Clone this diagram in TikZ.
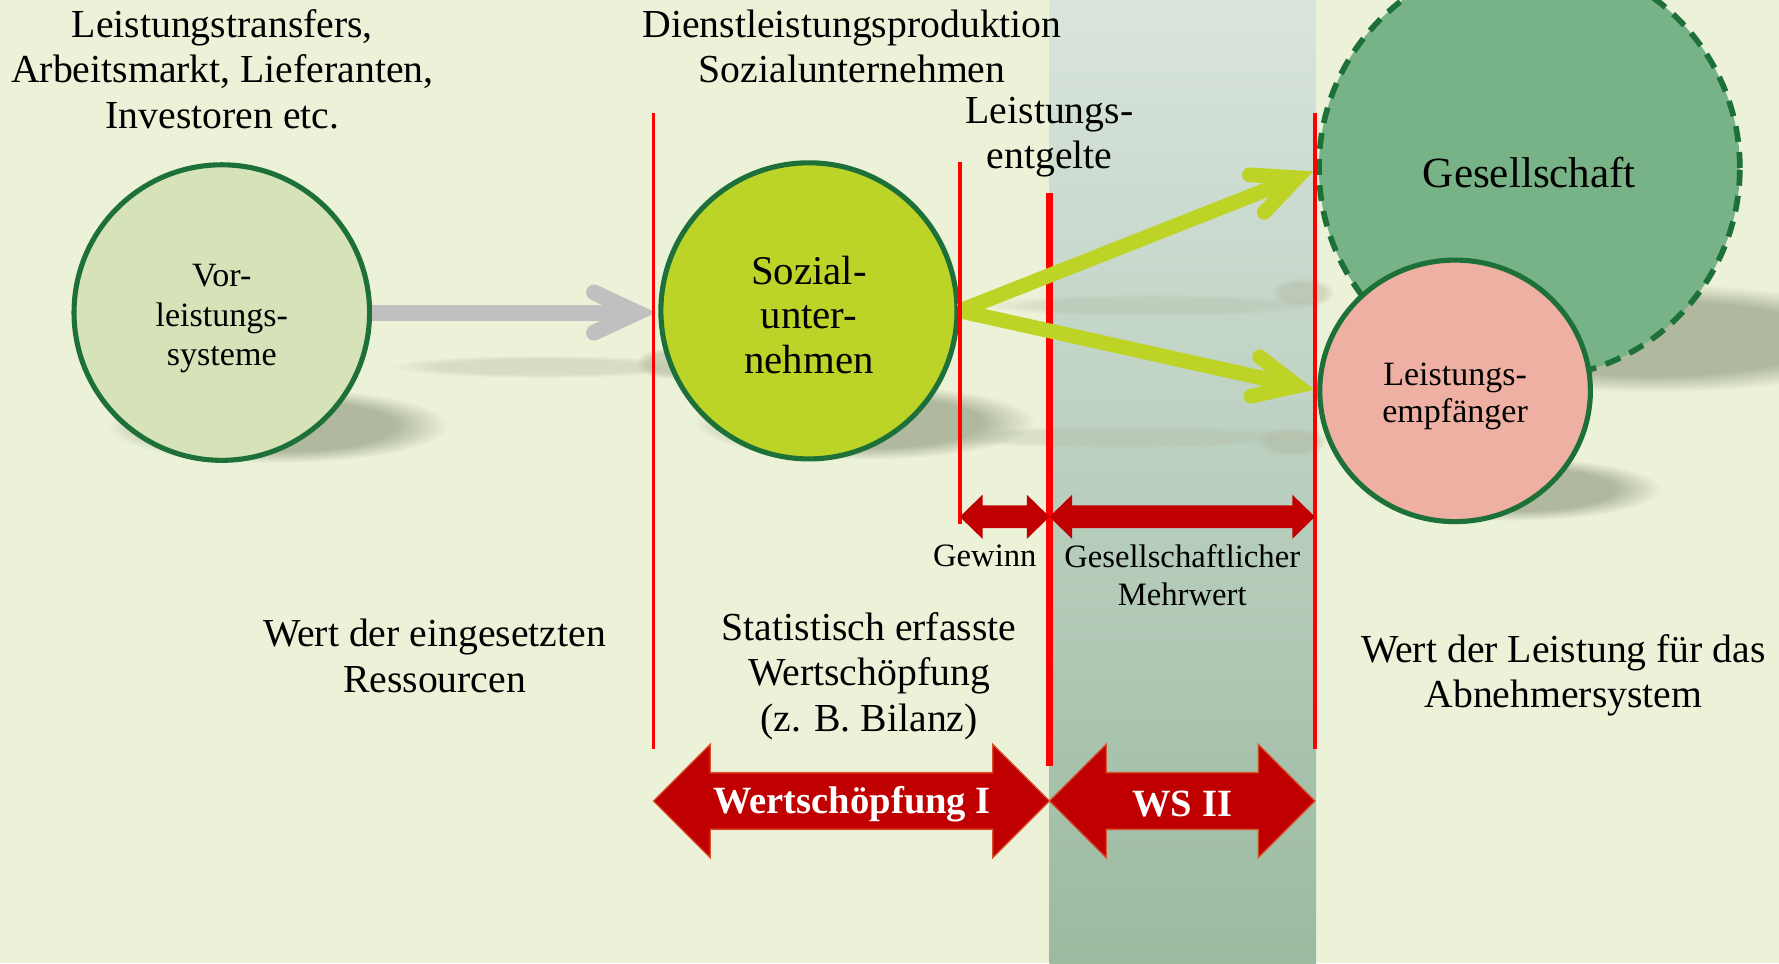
\documentclass[tikz,border=0pt]{standalone}
\usepackage{fontspec}
\setmainfont{Liberation Serif}
\usetikzlibrary{calc,fadings,shapes.geometric}
\definecolor{bgcol}{RGB}{236,242,216}
\definecolor{bandtop}{RGB}{217,228,221}
\definecolor{bandbot}{RGB}{155,186,160}
\definecolor{vorfill}{RGB}{214,227,185}
\definecolor{sozfill}{RGB}{188,212,40}
\definecolor{limegreen}{RGB}{189,212,38}
\definecolor{gesfill}{RGB}{119,179,135}
\definecolor{empfill}{RGB}{238,176,162}
\definecolor{dkgreen}{RGB}{28,112,56}
\definecolor{arrgray}{RGB}{192,192,192}
\definecolor{redline}{RGB}{255,0,0}
\definecolor{darkred}{RGB}{192,0,0}
\definecolor{rededge}{RGB}{214,80,42}
\definecolor{shadowcol}{RGB}{176,184,158}
\pgfdeclareradialshading{softshadowshade}{\pgfpointorigin}{color(0bp)=(white); color(17bp)=(white); color(25bp)=(black); color(50bp)=(black)}
\pgfdeclarefading{softshadow}{\pgfuseshading{softshadowshade}}
\newcommand\softshadow[5]{\fill[shadowcol,path fading=softshadow,#5] (#1,#2) ellipse [x radius=#3, y radius=#4];}
\newcommand\dblarr[7]{%
  \path[#1] (#2,#4) -- ({#2+#5},{#4-#6}) -- ({#2+#5},{#4-#7}) -- ({#3-#5},{#4-#7}) -- ({#3-#5},{#4-#6}) -- (#3,#4) -- ({#3-#5},{#4+#6}) -- ({#3-#5},{#4+#7}) -- ({#2+#5},{#4+#7}) -- ({#2+#5},{#4+#6}) -- cycle;}
\newcommand\chevarrow[3]{%
  \coordinate (#3c) at ($(#3)!7.7pt!(#2)$);
  \draw[#1,line cap=butt] (#2) -- (#3c);
  \draw[#1,line cap=round,line join=miter] ($(#3c)!21pt!25:(#2)$) -- (#3c) -- ($(#3c)!21pt!-25:(#2)$);}
\begin{document}
\begin{tikzpicture}[x=0.5pt,y=-0.5pt,
  every node/.style={inner sep=0pt},
  lbl/.style={align=center,font=\fontsize{17.5}{20}\selectfont},
  smalllbl/.style={align=center,font=\fontsize{14.4}{16.5}\selectfont},
  wslbl/.style={align=center,text=white,font=\bfseries\fontsize{17}{20}\selectfont},
  ring/.style={draw=dkgreen,line width=2.25pt},
  redthin/.style={draw=redline,line width=1.5pt},
  redthick/.style={draw=redline,line width=3.2pt},
  greenarr/.style={draw=limegreen,line width=6.5pt},
  grayarr/.style={draw=arrgray,line width=7pt},
  smallred/.style={fill=darkred},
  bigred/.style={fill=darkred,draw=rededge,line width=0.6pt,line join=miter}]
\useasboundingbox (0,0) rectangle (1568,849);
\clip (0,0) rectangle (1568,849);
\fill[bgcol] (0,0) rectangle (1568,849);
\shade[top color=bandtop,bottom color=bandbot] (925,0) rectangle (1160,849);
% shadows
\softshadow{245}{375}{150}{33}{}
\softshadow{762}{372}{150}{33}{}
\softshadow{1455}{298}{220}{48}{}
\softshadow{1332}{431}{132}{28}{}
\softshadow{478}{323}{135}{10}{opacity=0.35}
\softshadow{592}{320}{32}{14}{opacity=0.55}
\softshadow{1015}{269}{150}{10}{opacity=0.3}
\softshadow{1148}{258}{28}{13}{opacity=0.45}
\softshadow{990}{385}{170}{10}{opacity=0.3}
\softshadow{1138}{389}{32}{13}{opacity=0.45}
% circles
\node (ges) [circle,draw=dkgreen,line width=2.5pt,fill=gesfill,dash pattern=on 7pt off 4.5pt,minimum size=185.5pt] at (1348,148) {};
\node (emp) [ellipse,ring,fill=empfill,minimum width=119.25pt,minimum height=115.25pt] at (1282.5,344.5) {};
\node (vor) [circle,ring,fill=vorfill,minimum size=130.25pt] at (195.5,275.5) {};
\node (soz) [circle,ring,fill=sozfill,minimum size=130.5pt] at (713,274) {};
\node (gestext) [font=\fontsize{19}{22}\selectfont] at (1348,152) {Gesellschaft};
\node (emptext) [align=center,font=\fontsize{15}{16.5}\selectfont] at (1282.5,349.5) {Leistungs-\\empfänger};
\node (vortext) [align=center,font=\fontsize{15}{17.5}\selectfont] at (195.5,281) {Vor-\\leistungs-\\systeme};
\node (soztext) [align=center,font=\fontsize{18}{19.5}\selectfont] at (713,277.5) {Sozial-\\unter-\\nehmen};
% thick red line
\draw[redthick] (925,170) -- (925,675);
% arrows
\coordinate (tipG) at (577,275.5);
\coordinate (tipU) at (1157.5,151);
\coordinate (tipL) at (1158.5,343.5);
\chevarrow{grayarr}{vor.east}{tipG}
\chevarrow{greenarr}{soz.east}{tipU}
\chevarrow{greenarr}{soz.east}{tipL}
% thin red lines
\draw[redthin] (576,100) -- (576,660);
\draw[redthin] (846,143) -- (846,462);
\draw[redthin] (1159,100) -- (1159,660);
% small red double arrows
\dblarr{smallred}{846}{925}{455.5}{20}{19.5}{10}
\dblarr{smallred}{925}{1159}{455.5}{20}{19.5}{10}
% big red double arrows
\dblarr{bigred}{576}{925}{706}{50}{50}{25}
\dblarr{bigred}{925}{1159}{706}{50}{50}{25}
% labels
\node[lbl] (t1) at (196,61) {Leistungstransfers,\\Arbeitsmarkt, Lieferanten,\\Investoren etc.};
\node[lbl] (t2) at (751,41) {Dienstleistungsproduktion\\Sozialunternehmen};
\node[lbl] (t3) at (925,121) {Leistungs-\\entgelte};
\node[lbl] (t4) at (383,578) {Wert der eingesetzten\\Ressourcen};
\node[lbl] (t5) at (766,596) {Statistisch erfasste\\Wertschöpfung\\(z. B. Bilanz)};
\node[lbl] (t6) at (1378,595) {Wert der Leistung für das\\Abnehmersystem};
\node[smalllbl] (gew) at (868,490) {Gewinn};
\node[smalllbl] (mehr) at (1042,507) {Gesellschaftlicher\\Mehrwert};
\node[wslbl] (ws1) at (751,709) {Wertschöpfung I};
\node[wslbl] (ws2) at (1042,709) {WS II};
\end{tikzpicture}
\end{document}
